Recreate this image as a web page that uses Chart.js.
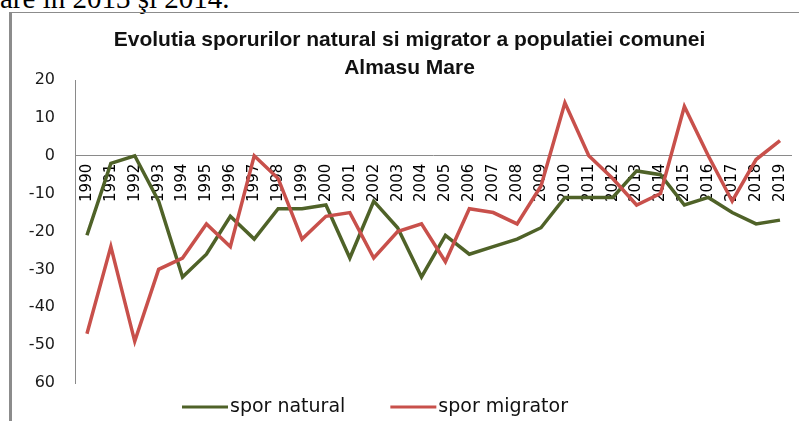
<!DOCTYPE html>
<html>
<head>
<meta charset="utf-8">
<script src="https://cdn.jsdelivr.net/npm/chart.js@4"></script>
<style>
  html, body { margin: 0; padding: 0; background: #fff; overflow: hidden; }
  #page { position: relative; width: 799px; height: 421px; overflow: hidden; }
  #doc { position: absolute; left: 0; top: -16px; font: 29px/29px "Liberation Serif", serif; color: #000; white-space: nowrap; }
  #frame { position: absolute; left: 9px; top: 12px; width: 900px; height: 500px;
           border-left: 3px solid #8c8c8c; border-top: 1px solid #8c8c8c; }
  canvas { position: absolute; left: 0; top: 0; }
</style>
</head>
<body>
<div id="page">
  <div id="doc">are în 2013 şi 2014.</div>
  <div id="frame"></div>
  <canvas id="lineChart" width="806" height="421"></canvas>
</div>
<script>
var years = ["1990", "1991", "1992", "1993", "1994", "1995", "1996", "1997", "1998", "1999",
  "2000", "2001", "2002", "2003", "2004", "2005", "2006", "2007", "2008", "2009",
  "2010", "2011", "2012", "2013", "2014", "2015", "2016", "2017", "2018", "2019"];
var sporNatural = [-21, -2, 0, -12, -32, -26, -16, -22, -14, -14,
  -13, -27, -12, -19, -32, -21, -26, -24, -22, -19,
  -11, -11, -11, -4, -5, -13, -11, -15, -18, -17];
var sporMigrator = [-47, -24, -49, -30, -27, -18, -24, 0, -6, -22,
  -16, -15, -27, -20, -18, -28, -14, -15, -18, -8,
  14, 0, -6, -13, -10, 13, 0, -12, -1, 4];
// tick labels from bottom (-60) to top (20), as printed in the picture
var yTickLabels = ["60", "-50", "-40", "-30", "-20", "-10", "0", "10", "20"];

// legend drawn by hand: line sample + text, as in the Excel original
var bottomLegend = {
  id: 'bottomLegend',
  afterDraw: function (chart) {
    var ctx = chart.ctx;
    var x = 182, y = 407;
    ctx.save();
    ctx.font = '19px "DejaVu Sans"';
    ctx.textBaseline = 'middle';
    ctx.textAlign = 'left';
    chart.data.datasets.slice().sort(function (a, b) { return a.legendIndex - b.legendIndex; }).forEach(function (ds) {
      ctx.strokeStyle = ds.borderColor;
      ctx.lineWidth = 3;
      ctx.beginPath();
      ctx.moveTo(x, y);
      ctx.lineTo(x + 46, y);
      ctx.stroke();
      ctx.fillStyle = '#111';
      ctx.fillText(ds.label, x + 48, y);
      x += 48 + ctx.measureText(ds.label).width + 45;
    });
    ctx.restore();
  }
};

var ctx = document.getElementById("lineChart").getContext("2d");
var myChart = new Chart(ctx, {
  type: 'line',
  data: {
    labels: years,
    datasets: [{
      label: 'spor natural',
      legendIndex: 0,
      data: sporNatural,
      borderColor: '#4F6228',
      borderWidth: 3.5,
      pointRadius: 0,
      tension: 0,
      order: 1
    }, {
      label: 'spor migrator',
      legendIndex: 1,
      data: sporMigrator,
      borderColor: '#C8504B',
      borderWidth: 3.5,
      pointRadius: 0,
      tension: 0,
      order: 0
    }]
  },
  options: {
    responsive: false,
    animation: false,
    layout: {
      padding: { left: 14, right: 1, top: 0, bottom: 38 }
    },
    plugins: {
      legend: { display: false },
      tooltip: { enabled: false },
      title: {
        display: true,
        text: ['Evolutia sporurilor natural si migrator a populatiei comunei', 'Almasu Mare'],
        color: '#111',
        font: { family: '"Liberation Sans"', size: 21, weight: 'bold', lineHeight: '28px' },
        padding: { top: 26, bottom: -2 }
      }
    },
    scales: {
      x: {
        position: { y: 0 },
        offset: true,
        grid: { display: false, drawTicks: false },
        border: { display: true, color: '#8a8a8a', width: 1 },
        ticks: {
          autoSkip: false,
          minRotation: 90,
          maxRotation: 90,
          padding: 8,
          color: '#000',
          font: { family: '"DejaVu Sans"', size: 15 }
        }
      },
      y: {
        min: -60,
        max: 20,
        grid: { display: false, drawTicks: false },
        border: { display: true, color: '#8a8a8a', width: 1 },
        afterFit: function (scale) { scale.width = 61; },
        ticks: {
          stepSize: 10,
          padding: 20,
          color: '#1a1a1a',
          font: { family: '"DejaVu Sans"', size: 16 },
          callback: function (value, index) { return yTickLabels[index]; }
        }
      }
    }
  },
  plugins: [bottomLegend]
});
</script>
</body>
</html>
